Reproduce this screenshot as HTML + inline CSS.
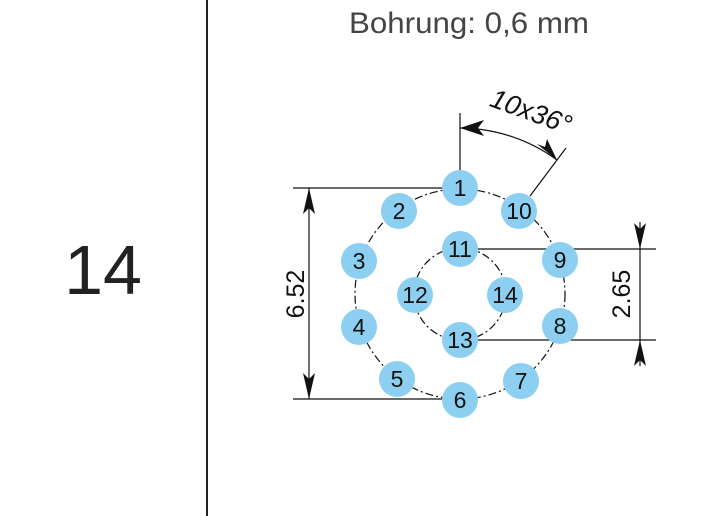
<!DOCTYPE html>
<html><head><style>
body{margin:0;background:#fff;}
svg{display:block;}
</style></head><body>
<svg width="726" height="516" viewBox="0 0 726 516" xmlns="http://www.w3.org/2000/svg" font-family="Liberation Sans, sans-serif">
<rect width="726" height="516" fill="#fff"/>
<line x1="207" y1="0" x2="207" y2="516" stroke="#222" stroke-width="2"/>
<text x="103" y="294" font-size="70" text-anchor="middle" fill="#222">14</text>
<text x="469" y="33" font-size="30" text-anchor="middle" fill="#444" textLength="240" lengthAdjust="spacingAndGlyphs">Bohrung: 0,6 mm</text>
<g fill="none" stroke="#111" stroke-width="1.2">
<circle cx="460" cy="294" r="105" stroke-dasharray="8,3,2,3"/>
<circle cx="460" cy="294" r="46" stroke-dasharray="8,3,2,3"/>
<line x1="293" y1="188" x2="445" y2="188"/>
<line x1="293" y1="399" x2="445" y2="399"/>
<line x1="309" y1="188" x2="309" y2="399"/>
<line x1="478" y1="249" x2="656" y2="249"/>
<line x1="478" y1="340" x2="656" y2="340"/>
<line x1="640" y1="222" x2="640" y2="366"/>
<line x1="460" y1="113" x2="460" y2="180"/>
<line x1="530" y1="196" x2="566" y2="148"/>
<path d="M460 128 A166 166 0 0 1 557 160"/>
</g>
<g fill="#111">
<polygon points="309,188 303,214 309,208 315,214"/>
<polygon points="309,399 303,373 309,379 315,373"/>
<polygon points="640,249 634,223 640,229 646,223"/>
<polygon points="640,340 634,366 640,360 646,366"/>
<polygon points="460,128 484,120 478,128 484,136"/>
<polygon points="557,160 537,144 545,147 547,139"/>
</g>
<text transform="translate(304,294) rotate(-90)" font-size="25" text-anchor="middle" fill="#111">6.52</text>
<text transform="translate(630,294) rotate(-90)" font-size="25" text-anchor="middle" fill="#111">2.65</text>
<text transform="translate(528,120) rotate(20)" font-size="27" font-style="italic" text-anchor="middle" fill="#111">10x36°</text>
<g fill="#8ccff0">
<circle cx="460" cy="188" r="18"/><circle cx="399" cy="211" r="18"/><circle cx="359" cy="261" r="18"/>
<circle cx="359" cy="327" r="18"/><circle cx="397" cy="379" r="18"/><circle cx="460" cy="400" r="18"/>
<circle cx="521" cy="381" r="18"/><circle cx="560" cy="326" r="18"/><circle cx="560" cy="260" r="18"/>
<circle cx="519" cy="211" r="18"/><circle cx="460" cy="249" r="18"/><circle cx="415" cy="295" r="18"/>
<circle cx="460" cy="340" r="18"/><circle cx="505" cy="295" r="18"/>
</g>
<g font-size="23" text-anchor="middle" fill="#111">
<text x="460" y="196">1</text><text x="399" y="219">2</text><text x="359" y="269">3</text>
<text x="359" y="335">4</text><text x="397" y="387">5</text><text x="460" y="408">6</text>
<text x="521" y="389">7</text><text x="560" y="334">8</text><text x="560" y="268">9</text>
<text x="519" y="219">10</text><text x="460" y="257">11</text><text x="415" y="303">12</text>
<text x="460" y="348">13</text><text x="505" y="303">14</text>
</g>
</svg>
</body></html>
